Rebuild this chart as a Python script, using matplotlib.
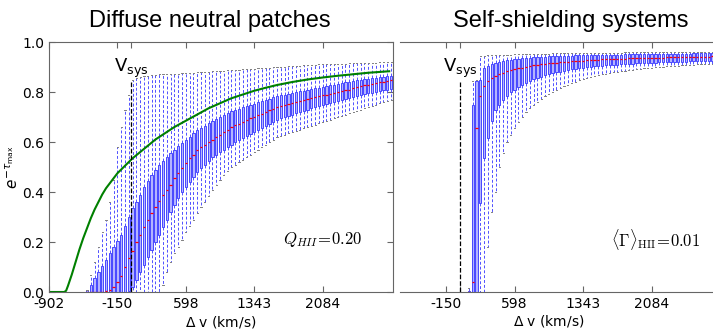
import numpy as np
import matplotlib.pyplot as plt

# velocity-bin index of each box (the x ticks relabel bins in km/s)
left_bins = np.arange(10, 91)
right_bins = np.arange(24, 91)

# Diffuse neutral patches: whisker low, Q1, median, Q3, whisker high
left_lo = [0, 0, 0, 0, 0, 0, 0, 0, 0, 0, 0, 0, 0, 0, 0, 0, 0, 0, 0, 0,
           0.03, 0.08, 0.12, 0.155, 0.18, 0.21, 0.24, 0.265, 0.29, 0.315,
           0.34, 0.36, 0.385, 0.41, 0.43, 0.45, 0.47, 0.485, 0.50, 0.51,
           0.52, 0.53, 0.54, 0.55, 0.56, 0.57, 0.58, 0.59, 0.60, 0.61,
           0.62, 0.625, 0.63, 0.635, 0.64, 0.645, 0.65, 0.655, 0.66, 0.665,
           0.67, 0.675, 0.68, 0.685, 0.69, 0.695, 0.70, 0.705, 0.71, 0.715,
           0.72, 0.725, 0.73, 0.735, 0.74, 0.745, 0.75, 0.755, 0.76, 0.765, 0.77]
left_q1 = [0, 0, 0, 0, 0, 0, 0, 0, 0, 0, 0,
           0.005, 0.02, 0.05, 0.08, 0.11, 0.14, 0.17, 0.20, 0.23, 0.26,
           0.29, 0.32, 0.35, 0.375, 0.40, 0.42, 0.44, 0.46, 0.48, 0.495,
           0.51, 0.525, 0.54, 0.55, 0.56, 0.57, 0.58, 0.59, 0.60, 0.61,
           0.618, 0.626, 0.634, 0.642, 0.65, 0.658, 0.666, 0.674, 0.682, 0.69,
           0.695, 0.70, 0.705, 0.71, 0.715, 0.72, 0.725, 0.73, 0.735, 0.74,
           0.744, 0.748, 0.752, 0.756, 0.76, 0.764, 0.768, 0.772, 0.776, 0.78,
           0.784, 0.788, 0.792, 0.795, 0.798, 0.801, 0.804, 0.807, 0.81, 0.813]
left_med = [0, 0, 0, 0, 0, 0.005, 0.01, 0.02, 0.04, 0.065, 0.10,
            0.135, 0.165, 0.20, 0.23, 0.26, 0.29, 0.315, 0.34, 0.365, 0.39,
            0.41, 0.43, 0.455, 0.475, 0.495, 0.515, 0.535, 0.55, 0.57, 0.58,
            0.59, 0.60, 0.61, 0.62, 0.63, 0.64, 0.65, 0.66, 0.667, 0.674,
            0.681, 0.688, 0.695, 0.70, 0.707, 0.714, 0.72, 0.727, 0.734, 0.74,
            0.745, 0.75, 0.754, 0.758, 0.762, 0.766, 0.77, 0.773, 0.777, 0.78,
            0.784, 0.787, 0.79, 0.794, 0.797, 0.80, 0.804, 0.807, 0.81, 0.815,
            0.82, 0.824, 0.827, 0.83, 0.833, 0.836, 0.839, 0.842, 0.845, 0.848]
left_q3 = [0.01, 0.03, 0.055, 0.08, 0.105, 0.13, 0.155, 0.18, 0.205, 0.23, 0.265,
           0.30, 0.335, 0.36, 0.39, 0.42, 0.445, 0.47, 0.49, 0.51, 0.525,
           0.54, 0.555, 0.57, 0.585, 0.598, 0.61, 0.622, 0.635, 0.648, 0.657,
           0.666, 0.675, 0.684, 0.692, 0.70, 0.708, 0.716, 0.724, 0.729, 0.734,
           0.739, 0.744, 0.749, 0.754, 0.759, 0.764, 0.769, 0.774, 0.779, 0.783,
           0.787, 0.79, 0.793, 0.796, 0.80, 0.803, 0.806, 0.809, 0.812, 0.815,
           0.818, 0.821, 0.824, 0.827, 0.83, 0.833, 0.836, 0.839, 0.842, 0.845,
           0.848, 0.85, 0.852, 0.854, 0.856, 0.858, 0.86, 0.862, 0.864, 0.866]
left_hi = [0.01, 0.07, 0.12, 0.18, 0.24, 0.29, 0.36, 0.45, 0.58, 0.66, 0.73,
           0.79, 0.85, 0.855, 0.86, 0.863, 0.866, 0.869, 0.87, 0.871, 0.872,
           0.872, 0.873, 0.873, 0.874, 0.875, 0.876, 0.877, 0.878, 0.879, 0.88,
           0.881, 0.882, 0.883, 0.884, 0.885, 0.886, 0.887, 0.888, 0.889, 0.89,
           0.891, 0.892, 0.893, 0.894, 0.895, 0.896, 0.897, 0.898, 0.899, 0.90,
           0.901, 0.902, 0.903, 0.904, 0.905, 0.906, 0.907, 0.908, 0.909, 0.91,
           0.911, 0.911, 0.912, 0.912, 0.913, 0.913, 0.914, 0.914, 0.915, 0.915,
           0.916, 0.916, 0.917, 0.917, 0.918, 0.918, 0.919, 0.919, 0.92, 0.92]

# Self-shielding systems
right_lo = [0, 0, 0, 0, 0, 0.18, 0.32, 0.40, 0.50, 0.555, 0.60,
            0.63, 0.655, 0.68, 0.70, 0.72, 0.735, 0.748, 0.76, 0.772, 0.783,
            0.792, 0.80, 0.808, 0.816, 0.823, 0.83, 0.837, 0.842, 0.847, 0.852,
            0.856, 0.86, 0.864, 0.868, 0.871, 0.874, 0.877, 0.879, 0.881, 0.883,
            0.885, 0.887, 0.889, 0.891, 0.893, 0.895, 0.896, 0.898, 0.899, 0.90,
            0.901, 0.903, 0.904, 0.905, 0.906, 0.907, 0.908, 0.909, 0.91, 0.911,
            0.912, 0.912, 0.913, 0.913, 0.914, 0.914]
right_q1 = [0, 0, 0, 0.355, 0.535, 0.615, 0.685, 0.73, 0.75, 0.77, 0.785,
            0.80, 0.81, 0.82, 0.83, 0.838, 0.845, 0.851, 0.857, 0.862, 0.867,
            0.871, 0.875, 0.879, 0.882, 0.885, 0.888, 0.891, 0.893, 0.895, 0.897,
            0.899, 0.901, 0.903, 0.904, 0.906, 0.907, 0.908, 0.909, 0.91, 0.911,
            0.912, 0.913, 0.914, 0.915, 0.916, 0.917, 0.917, 0.918, 0.918, 0.919,
            0.919, 0.92, 0.92, 0.921, 0.921, 0.922, 0.922, 0.923, 0.923, 0.924,
            0.924, 0.925, 0.925, 0.926, 0.926, 0.927]
right_med = [0, 0.04, 0.655, 0.785, 0.825, 0.845, 0.855, 0.865, 0.872, 0.878, 0.883,
             0.887, 0.891, 0.895, 0.898, 0.901, 0.904, 0.907, 0.909, 0.911, 0.913,
             0.915, 0.917, 0.918, 0.92, 0.921, 0.922, 0.923, 0.924, 0.925, 0.926,
             0.927, 0.928, 0.929, 0.93, 0.931, 0.932, 0.932, 0.933, 0.933, 0.934,
             0.934, 0.935, 0.935, 0.936, 0.936, 0.937, 0.937, 0.937, 0.938, 0.938,
             0.938, 0.939, 0.939, 0.939, 0.94, 0.94, 0.94, 0.941, 0.941, 0.941,
             0.942, 0.942, 0.942, 0.943, 0.943, 0.943]
right_q3 = [0.005, 0.75, 0.845, 0.85, 0.895, 0.905, 0.912, 0.918, 0.922, 0.925, 0.928,
            0.93, 0.932, 0.934, 0.936, 0.937, 0.938, 0.939, 0.94, 0.941, 0.942,
            0.943, 0.944, 0.944, 0.945, 0.945, 0.946, 0.946, 0.947, 0.947, 0.947,
            0.948, 0.948, 0.948, 0.949, 0.949, 0.949, 0.95, 0.95, 0.95, 0.95,
            0.951, 0.951, 0.951, 0.951, 0.952, 0.952, 0.952, 0.952, 0.953, 0.953,
            0.953, 0.953, 0.953, 0.954, 0.954, 0.954, 0.954, 0.954, 0.955, 0.955,
            0.955, 0.955, 0.955, 0.955, 0.956, 0.956]
right_hi = [0.015, 0.845, 0.85, 0.945, 0.946, 0.947, 0.948, 0.948, 0.949, 0.949, 0.95,
            0.95, 0.951, 0.951, 0.952, 0.952, 0.953, 0.953, 0.953, 0.954, 0.954,
            0.954, 0.955, 0.955, 0.955, 0.955, 0.956, 0.956, 0.956, 0.956, 0.957,
            0.957, 0.957, 0.957, 0.957, 0.958, 0.958, 0.958, 0.958, 0.958, 0.958,
            0.959, 0.959, 0.959, 0.959, 0.959, 0.959, 0.96, 0.96, 0.96, 0.96,
            0.96, 0.96, 0.96, 0.961, 0.961, 0.961, 0.961, 0.961, 0.961, 0.961,
            0.962, 0.962, 0.962, 0.962, 0.962, 0.962]

# green curve in the left panel
green_bins = [0, 4, 4.5, 5, 6, 7, 8, 9, 10, 11, 12, 13, 14, 15, 16, 17, 18, 20,
              22, 24, 26, 28, 30, 33, 36, 39, 42, 45, 48, 51, 54, 57, 60, 64, 68,
              72, 76, 80, 84, 89.5]
green_vals = [0, 0, 0.005, 0.025, 0.07, 0.12, 0.17, 0.215, 0.255, 0.295, 0.33,
              0.36, 0.39, 0.415, 0.435, 0.455, 0.475, 0.505, 0.535, 0.56, 0.585,
              0.61, 0.63, 0.66, 0.685, 0.71, 0.735, 0.755, 0.775, 0.79, 0.805,
              0.817, 0.828, 0.84, 0.85, 0.858, 0.865, 0.871, 0.877, 0.883]

tick_bins = [0, 18, 21.6, 36, 54, 72]
tick_labels = ['-902', '-150', '', '598', '1343', '2084']
vsys_bin = 21.6
vsys_top = 0.85


def box_stats(lo, q1, med, q3, hi):
    return [dict(whislo=a, q1=b, med=c, q3=d, whishi=e, fliers=[])
            for a, b, c, d, e in zip(lo, q1, med, q3, hi)]


def draw_boxes(ax, bins, stats):
    ax.bxp(stats, positions=bins, widths=0.6, patch_artist=True,
           showfliers=False, manage_ticks=False, capwidths=0.3,
           boxprops=dict(facecolor='#b4b4ff', edgecolor='#3030ff', linewidth=0.6),
           whiskerprops=dict(color='#5050ff', linestyle=(0, (3, 2)), linewidth=0.7),
           capprops=dict(color='0.5', linewidth=0.7),
           medianprops=dict(color='r', linewidth=0.9))


def style_axis(ax, xlim):
    ax.set_xticks(tick_bins)
    ax.set_xticklabels(tick_labels)
    ax.set_xlim(*xlim)
    ax.set_ylim(0, 1)
    ax.tick_params(direction='in', top=True, right=True, length=4,
                   labelsize=10, color='0.4')
    for s in ax.spines.values():
        s.set_color('0.4')
    ax.set_xlabel(r'$\Delta$ v (km/s)', fontsize=10, labelpad=2)
    ax.axvline(vsys_bin, ymin=0, ymax=vsys_top, color='k', ls='--', lw=0.9)
    ax.text(vsys_bin, 0.88, r'V$_{\rm sys}$', ha='center', va='baseline',
            fontsize=13)


fig = plt.figure(figsize=(7.13, 3.31), dpi=100)
ax1 = fig.add_axes([49 / 713, 39 / 331, 344 / 713, 250 / 331])
ax2 = fig.add_axes([400 / 713, 39 / 331, 322 / 713, 250 / 331])

draw_boxes(ax1, left_bins, box_stats(left_lo, left_q1, left_med, left_q3, left_hi))
ax1.plot(green_bins, green_vals, color='g', lw=1.5)
style_axis(ax1, (0, 90.5))
ax1.set_yticks([0, 0.2, 0.4, 0.6, 0.8, 1.0])
ax1.set_ylabel(r'$e^{-\tau_{\rm max}}$', fontsize=11)
ax1.yaxis.set_label_coords(-0.08, 0.5)
ax1.text(0.68, 0.21, r'$Q_{HII}\!=\!0.20$', transform=ax1.transAxes,
         fontsize=12, va='center', math_fontfamily='cm')

draw_boxes(ax2, right_bins, box_stats(right_lo, right_q1, right_med, right_q3, right_hi))
style_axis(ax2, (5.9, 90.5))
ax2.tick_params(left=False, labelleft=False, right=False)
ax2.spines['left'].set_visible(False)
ax2.spines['right'].set_visible(False)
ax2.xaxis.set_label_coords(0.463, -0.085)
ax2.text(61.3, 0.21, r'$\langle\Gamma\rangle_{\rm HII}\!=\!0.01$',
         fontsize=12, va='center', math_fontfamily='cm')

fig.text(210 / 713, 1 - 27 / 331, 'Diffuse neutral patches', ha='center',
         va='baseline', fontsize=17, family='Liberation Sans')
fig.text(571 / 713, 1 - 27 / 331, 'Self-shielding systems', ha='center',
         va='baseline', fontsize=17, family='Liberation Sans')

fig.savefig('out.png', dpi=100)
